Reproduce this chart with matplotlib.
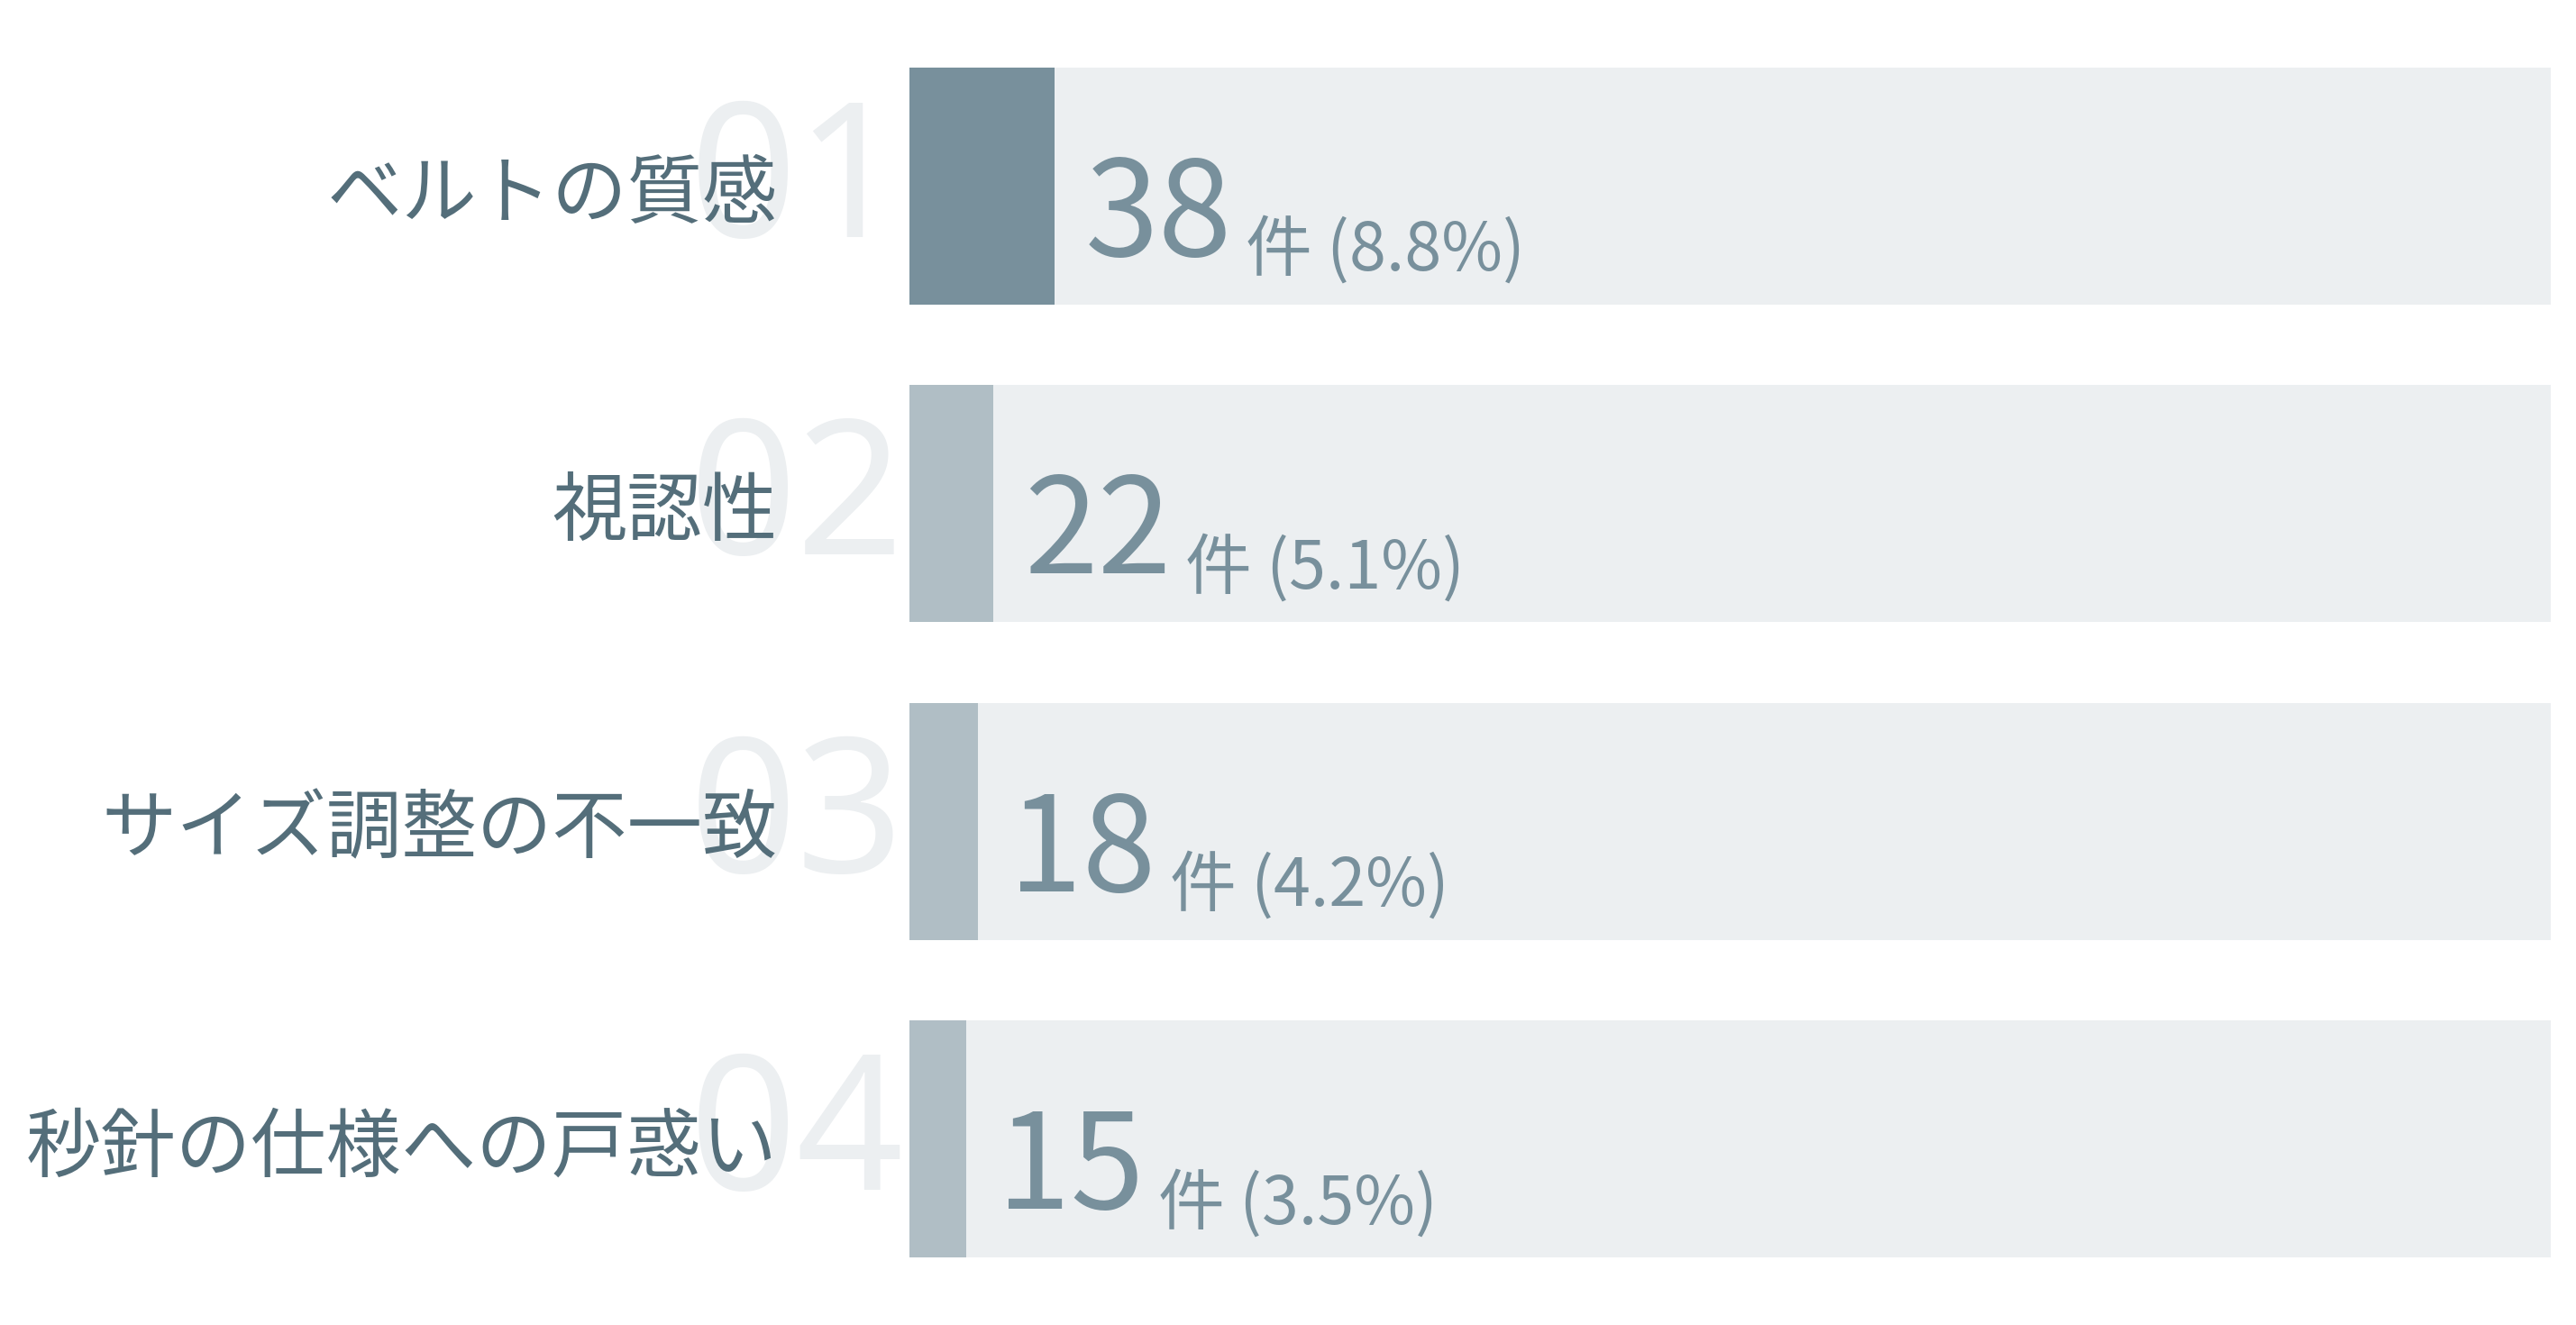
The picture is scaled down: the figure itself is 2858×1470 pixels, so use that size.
import matplotlib.pyplot as plt

plt.rcParams['font.family'] = ['Noto Sans CJK JP', 'DejaVu Sans']

labels = ["ベルトの質感", "視認性", "サイズ調整の不一致", "秒針の仕様への戸惑い"]
ranks = ["01", "02", "03", "04"]
counts = [38, 22, 18, 15]
total = 431

label_color = "#546E7A"
value_color = "#78909C"
track_color = "#ECEFF1"
ghost_color = "#ECEFF1"
bar_colors = ["#78909C", "#B0BEC5", "#B0BEC5", "#B0BEC5"]

fig = plt.figure(figsize=(14.29, 7.35), dpi=200)
ax = fig.add_axes([1009/2858, 30/1470, 1821/2858, 1410/1470])

y = list(range(len(labels)))
ax.barh(y, [total]*len(y), height=0.745, color=track_color, zorder=1)
ax.barh(y, counts, height=0.745, color=bar_colors, zorder=2)

ax.set_xlim(0, total)
ax.set_ylim(len(labels)-0.5, -0.5)
ax.axis("off")

for i in range(len(labels)):
    # big pale rank number behind the label
    ax.annotate(ranks[i], xy=(0, i), xytext=(-2, -20.3), textcoords="offset points",
                ha="right", va="baseline", fontsize=75, fontweight="light",
                family=["Noto Sans", "DejaVu Sans"],
                color=ghost_color, annotation_clip=False, zorder=3)
    ax.annotate(labels[i], xy=(0, i), xytext=(-52.6, -12.4), textcoords="offset points",
                ha="right", va="baseline", fontsize=30, color=label_color,
                annotation_clip=False, zorder=4)
    big = ax.annotate(str(counts[i]), xy=(counts[i], i), xytext=(12.2, -27.9),
                      textcoords="offset points", ha="left", va="baseline",
                      fontsize=53, color=value_color, zorder=4)
    pct = counts[i] / total * 100
    ax.annotate("件 (%.1f%%)" % pct, xy=(1, i), xycoords=(big, "data"),
                xytext=(5.5, -33.7), textcoords="offset points", ha="left", va="baseline",
                fontsize=26.5, color=value_color, zorder=4)

plt.savefig("out.png", dpi=200)
